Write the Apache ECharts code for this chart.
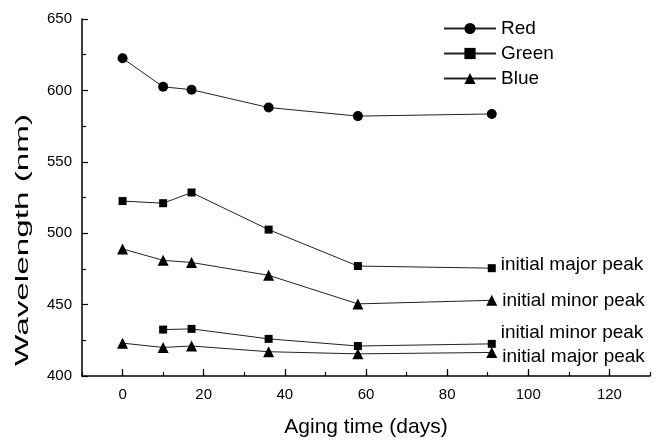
<!DOCTYPE html>
<html>
<head>
<meta charset="utf-8">
<script src="https://cdn.jsdelivr.net/npm/echarts@6/dist/echarts.min.js"></script>
<style>
  html, body { margin: 0; padding: 0; background: #fff; }
  #main { width: 667px; height: 443px; }
</style>
</head>
<body>
<div id="main"></div>
<script>
// aging time (days)
const days = [0, 10, 17, 36, 58, 91];
const daysMinor = [10, 17, 36, 58, 91];

// peak wavelength (nm)
const red = [622.5, 602.5, 600.5, 588, 582, 583.5];
const greenUpper = [522.5, 521, 528.5, 502.5, 477, 475.5];
const greenLower = [432.5, 433, 426, 421, 422.5];
const blueUpper = [489, 481, 479.5, 470.5, 450.5, 453];
const blueLower = [423, 420, 421, 417, 415.5, 416.5];

const xMajorTicks = [0, 20, 40, 60, 80, 100, 120];

const FONT = 'Liberation Sans, Arial, sans-serif';

// zip x/y and put the peak note on the last point
function pts(xs, ys, note, offset) {
  return ys.map((v, i) => {
    const item = { value: [xs[i], v] };
    if (note && i === ys.length - 1) {
      item.label = {
        show: true,
        position: 'right',
        distance: 5,
        offset: offset || [0, 0],
        formatter: note,
        color: '#000',
        fontSize: 19,
        fontFamily: FONT
      };
    }
    return item;
  });
}

function line(name, symbol, size, data) {
  return {
    name: name,
    type: 'line',
    symbol: symbol,
    symbolSize: size,
    showSymbol: true,
    color: '#000',
    lineStyle: { color: '#222', width: 1 },
    itemStyle: { color: '#000' },
    data: data,
    z: 3
  };
}

const chart = echarts.init(document.getElementById('main'));

const option = {
  animation: false,
  grid: { left: 82, right: 17, top: 19, bottom: 59, containLabel: false },
  legend: {
    data: ['Red', 'Green', 'Blue'],
    orient: 'vertical',
    left: 438,
    top: 14,
    itemWidth: 52,
    itemHeight: 14,
    itemGap: 6,
    textStyle: { fontSize: 19, color: '#000', fontFamily: FONT }
  },
  xAxis: [{
    type: 'value',
    min: -10,
    max: 130,
    interval: 10,
    axisLine: { show: true, onZero: false, lineStyle: { color: '#000', width: 1.5 } },
    axisTick: { show: true, inside: true, length: 4, lineStyle: { color: '#000', width: 1.2 } },
    axisLabel: {
      margin: 11,
      color: '#000',
      fontSize: 15,
      fontFamily: FONT,
      formatter: v => (v % 20 === 0 && v >= 0) ? String(v) : ''
    },
    splitLine: { show: false },
    name: 'Aging time (days)',
    nameLocation: 'middle',
    nameGap: 41,
    nameTextStyle: { fontSize: 21, color: '#000', fontFamily: FONT }
  }, {
    type: 'value',
    position: 'bottom',
    min: -10,
    max: 130,
    interval: 10,
    axisLine: { show: false, onZero: false },
    axisTick: {
      show: true, inside: true, length: 7,
      customValues: xMajorTicks,
      lineStyle: { color: '#000', width: 1.2 }
    },
    axisLabel: { show: false },
    splitLine: { show: false }
  }],
  yAxis: {
    type: 'value',
    min: 400,
    max: 650,
    interval: 50,
    axisLine: { show: true, onZero: false, lineStyle: { color: '#000', width: 1.5 } },
    axisTick: { show: true, inside: true, length: 6, lineStyle: { color: '#000', width: 1.2 } },
    minorTick: { show: true, splitNumber: 2, length: 4, lineStyle: { color: '#000', width: 1.2 } },
    axisLabel: { margin: 10, color: '#000', fontSize: 15, fontFamily: FONT },
    splitLine: { show: false }
  },
  graphic: [{
    type: 'text',
    x: 23,
    y: 240,
    rotation: Math.PI / 2,
    scaleX: 1.75,
    style: {
      text: 'Wavelength (nm)',
      font: '19px ' + FONT,
      fill: '#000',
      textAlign: 'center',
      textVerticalAlign: 'middle'
    }
  }],
  series: [
    line('Red', 'circle', 10, pts(days, red)),
    line('Green', 'rect', 8, pts(days, greenUpper, 'initial major peak', [0, -3])),
    line('Blue', 'triangle', 11, pts(days, blueUpper, 'initial minor peak', [0, 0])),
    line('Green', 'rect', 8, pts(daysMinor, greenLower, 'initial minor peak', [0, -11])),
    line('Blue', 'triangle', 11, pts(days, blueLower, 'initial major peak', [0, 4]))
  ]
};

chart.setOption(option);
</script>
</body>
</html>
